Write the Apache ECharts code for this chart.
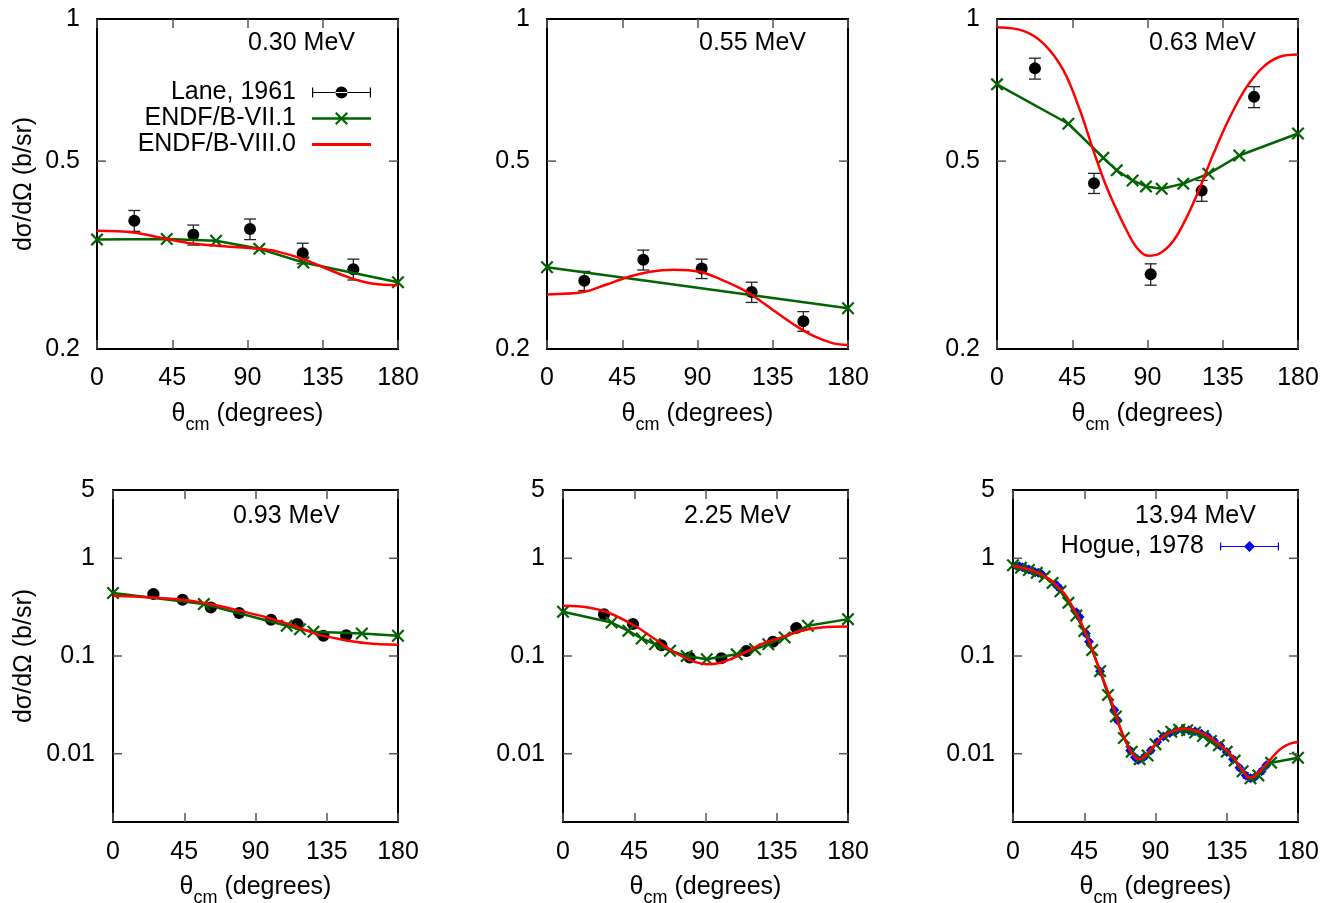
<!DOCTYPE html>
<html>
<head>
<meta charset="utf-8">
<script src="https://cdn.jsdelivr.net/npm/echarts@6/dist/echarts.min.js"></script>
<style>
html,body{margin:0;padding:0;background:#fff;}
#main{width:1333px;height:903px;}
</style>
</head>
<body>
<div id="main"></div>
<script>
// ---------------- DATA ----------------
const xTickValues = [0, 45, 90, 135, 180];
const yTicksTop = [0.2, 0.5, 1];
const yTickLabelsTop = ['0.2', '0.5', '1'];
const yTicksBottom = [0.01, 0.1, 1, 5];
const yTickLabelsBottom = ['0.01', '0.1', '1', '5'];
const energyLabels = ['0.30 MeV', '0.55 MeV', '0.63 MeV', '0.93 MeV', '2.25 MeV', '13.94 MeV'];
const seriesNames = ['Lane, 1961', 'ENDF/B-VII.1', 'ENDF/B-VIII.0', 'Hogue, 1978'];

// 0.30 MeV
const lane030Theta = [22.3, 57.6, 91.5, 123.0, 153.3];
const lane030Value = [0.374, 0.349, 0.359, 0.319, 0.295];
const lane030Err = [0.019, 0.017, 0.018, 0.016, 0.015];
const b71_030Theta = [0, 41.7, 71.2, 97.1, 123.4, 180];
const b71_030Value = [0.341, 0.342, 0.339, 0.326, 0.305, 0.277];
const b80_030Theta = [0, 21.7, 41.7, 55.6, 71.6, 97.1, 107.4, 123.4, 135.3, 151.3, 165.3, 180];
const b80_030Value = [0.356, 0.353, 0.342, 0.335, 0.331, 0.326, 0.322, 0.310, 0.298, 0.283, 0.275, 0.273];

// 0.55 MeV
const lane055Theta = [22.3, 57.6, 92.5, 122.4, 153.3];
const lane055Value = [0.279, 0.309, 0.296, 0.264, 0.229];
const lane055Err = [0.013, 0.015, 0.014, 0.013, 0.011];
const b71_055Theta = [0, 180];
const b71_055Value = [0.298, 0.244];
const b80_055Theta = [0, 21.7, 35.7, 47.6, 61.6, 75.6, 91.5, 103.5, 115.4, 123.4, 135.3, 147.3, 159.3, 171.2, 180];
const b80_055Value = [0.261, 0.264, 0.274, 0.2835, 0.2914, 0.2943, 0.2914, 0.2812, 0.269, 0.259, 0.2416, 0.2257, 0.2131, 0.2056, 0.204];

// 0.63 MeV
const lane063Theta = [22.7, 58.0, 91.9, 122.4, 153.7];
const lane063Value = [0.786, 0.449, 0.288, 0.433, 0.684];
const lane063Err = [0.040, 0.022, 0.015, 0.022, 0.035];
const b71_063Theta = [0, 42.7, 63.6, 71.6, 81.1, 89.1, 98.5, 111.4, 126.4, 144.9, 180];
const b71_063Value = [0.727, 0.600, 0.508, 0.478, 0.455, 0.442, 0.437, 0.448, 0.470, 0.514, 0.572];
const b80_063Theta = [0, 15.7, 27.7, 39.7, 49.6, 57.6, 65.6, 75.6, 83.5, 90.5, 97.5, 105.5, 113.4, 121.4, 129.4, 139.3, 149.3, 159.3, 169.2, 180];
const b80_063Value = [0.960, 0.944, 0.888, 0.779, 0.641, 0.527, 0.440, 0.368, 0.328, 0.315, 0.319, 0.339, 0.380, 0.440, 0.518, 0.620, 0.718, 0.792, 0.832, 0.841];

// 0.93 MeV
const lane093Theta = [25.5, 43.9, 61.8, 79.7, 99.8, 116.5, 132.9, 147.3];
const lane093Value = [0.430, 0.376, 0.314, 0.275, 0.235, 0.212, 0.161, 0.163];
const lane093Err = [0.013, 0.011, 0.009, 0.008, 0.007, 0.006, 0.005, 0.005];
const b71_093Theta = [0, 57.4, 109.7, 118.1, 126.6, 157.2, 180];
const b71_093Value = [0.441, 0.340, 0.204, 0.188, 0.177, 0.170, 0.161];
const b80_093Theta = [0, 23.2, 44.3, 61.2, 80.2, 97.1, 114, 128.7, 143.5, 160.4, 180];
const b80_093Value = [0.413, 0.398, 0.376, 0.340, 0.290, 0.248, 0.204, 0.1675, 0.1487, 0.1353, 0.130];

// 2.25 MeV
const lane225Theta = [25.9, 44.2, 62.1, 80.0, 100.0, 115.8, 132.6, 147.4];
const lane225Value = [0.268, 0.212, 0.129, 0.0965, 0.0949, 0.1128, 0.1396, 0.193];
const lane225Err = [0.008, 0.006, 0.004, 0.003, 0.003, 0.003, 0.004, 0.006];
const b71_225Theta = [0, 30.7, 41.3, 49.7, 58.1, 67.6, 78.1, 90.8, 109.7, 121.3, 129.7, 140.0, 154.7, 180];
const b71_225Value = [0.2836, 0.220, 0.181, 0.151, 0.132, 0.113, 0.100, 0.0927, 0.104, 0.1174, 0.132, 0.155, 0.204, 0.2384];
const b80_225Theta = [0, 15.8, 28.4, 45.3, 57.9, 70.5, 83.2, 91.6, 100.0, 112.6, 125.3, 137.9, 150.5, 163.2, 180];
const b80_225Value = [0.3266, 0.314, 0.279, 0.204, 0.149, 0.1086, 0.087, 0.0824, 0.0858, 0.104, 0.132, 0.155, 0.181, 0.196, 0.200];

// 13.94 MeV
const hogue1394Theta = [2, 4, 6, 8, 10, 12, 14, 16, 18, 27, 29, 40, 42, 46, 48, 55, 64, 66, 74, 77, 79, 83, 87, 91, 95, 99, 103, 107, 111, 115, 119, 123, 127, 131, 135, 139, 143, 147, 150, 153, 157, 160];
const hogue1394Value = [0.84, 0.83, 0.81, 0.78, 0.77, 0.75, 0.72, 0.71, 0.69, 0.54, 0.50, 0.28, 0.25, 0.17, 0.14, 0.070, 0.028, 0.022, 0.0108, 0.0092, 0.0086, 0.0093, 0.0108, 0.0132, 0.0150, 0.0163, 0.0172, 0.0176, 0.0174, 0.0170, 0.0160, 0.0150, 0.0135, 0.0120, 0.0104, 0.0088, 0.0072, 0.0060, 0.0056, 0.0058, 0.0066, 0.0076];
const hogue1394Err = [0.04, 0.04, 0.04, 0.04, 0.04, 0.04, 0.04, 0.04, 0.03, 0.03, 0.03, 0.015, 0.013, 0.009, 0.007, 0.004, 0.0015, 0.0012, 0.0006, 0.0005, 0.0005, 0.0005, 0.0006, 0.0007, 0.0008, 0.0008, 0.0009, 0.0009, 0.0009, 0.0009, 0.0008, 0.0008, 0.0007, 0.0006, 0.0006, 0.0005, 0.0004, 0.0004, 0.0003, 0.0003, 0.0004, 0.0004];
const b71_1394Theta = [0, 5, 10, 15, 20, 25, 30, 35, 40, 45, 50, 55, 60, 65, 70, 75, 80, 85, 90, 95, 100, 105, 110, 115, 120, 125, 130, 135, 140, 145, 150, 155, 163, 180];
const b71_1394Value = [0.85, 0.80, 0.76, 0.71, 0.65, 0.56, 0.46, 0.35, 0.26, 0.18, 0.115, 0.070, 0.040, 0.024, 0.0145, 0.0105, 0.0088, 0.0096, 0.0125, 0.0152, 0.0168, 0.0176, 0.0174, 0.0165, 0.0152, 0.0135, 0.0122, 0.0105, 0.0085, 0.0066, 0.0056, 0.0060, 0.0081, 0.0091];
const b80_1394Theta = [0, 6, 12, 18, 23, 28, 33.5, 38, 42, 45, 48.3, 51, 54.6, 58, 61, 64, 67.2, 70.5, 73.6, 76.5, 79, 82, 86, 90, 95, 100, 105, 109, 113, 118, 122, 126, 130, 135, 139, 143, 146, 148.5, 151, 154, 158, 162, 166, 170, 175, 180];
const b80_1394Value = [0.83, 0.80, 0.75, 0.68, 0.613, 0.52, 0.413, 0.31, 0.238, 0.185, 0.138, 0.105, 0.073, 0.052, 0.039, 0.028, 0.0192, 0.0142, 0.0111, 0.0095, 0.0088, 0.0091, 0.0105, 0.0125, 0.0150, 0.0168, 0.0178, 0.0180, 0.0177, 0.0166, 0.0155, 0.0140, 0.0125, 0.0108, 0.0092, 0.0075, 0.0064, 0.0057, 0.0057, 0.0062, 0.0072, 0.0085, 0.0101, 0.0115, 0.0127, 0.0132];

// ---------------- LAYOUT / STYLE ----------------
const FONT = '"Liberation Sans", Arial, Helvetica, sans-serif';
const FS = 25;
const GREEN = '#006400';
const RED = '#ff0000';
const BLUE = '#0000ff';
const TICK = '#555';
const gridBoxes = [
  {left: 97, top: 19, width: 301, height: 330},
  {left: 547, top: 19, width: 301, height: 330},
  {left: 997, top: 19, width: 301, height: 330},
  {left: 113, top: 490, width: 285, height: 332},
  {left: 563, top: 490, width: 285, height: 332},
  {left: 1013, top: 490, width: 285, height: 332}
];
const titlePos = [[248, 31], [699, 31], [1149, 31], [233, 504], [684, 504], [1135, 504]];

const zip = (a, b) => a.map((v, i) => [v, b[i]]);
const zip3 = (a, b, c) => a.map((v, i) => [v, b[i], c[i]]);

const panels = [
  {lane: [lane030Theta, lane030Value, lane030Err], b71: [b71_030Theta, b71_030Value], b80: [b80_030Theta, b80_030Value], row: 0},
  {lane: [lane055Theta, lane055Value, lane055Err], b71: [b71_055Theta, b71_055Value], b80: [b80_055Theta, b80_055Value], row: 0},
  {lane: [lane063Theta, lane063Value, lane063Err], b71: [b71_063Theta, b71_063Value], b80: [b80_063Theta, b80_063Value], row: 0},
  {lane: [lane093Theta, lane093Value, lane093Err], b71: [b71_093Theta, b71_093Value], b80: [b80_093Theta, b80_093Value], row: 1},
  {lane: [lane225Theta, lane225Value, lane225Err], b71: [b71_225Theta, b71_225Value], b80: [b80_225Theta, b80_225Value], row: 1},
  {hogue: [hogue1394Theta, hogue1394Value, hogue1394Err], b71: [b71_1394Theta, b71_1394Value], b80: [b80_1394Theta, b80_1394Value], row: 1}
];

const crossPath = 'path://M0,1.2L1.2,0L5,3.8L8.8,0L10,1.2L6.2,5L10,8.8L8.8,10L5,6.2L1.2,10L0,8.8L3.8,5Z';
const laneIcon = 'path://M0,7.5H59V8.5H0Z M0,3H1.2V13H0Z M57.8,3H59V13H57.8Z M23.5,8A6,6,0,1,0,35.5,8A6,6,0,1,0,23.5,8Z';
const b71Icon = 'path://M0,6.8H59V9.2H0Z M23,3.06L24.56,1.5L29.5,6.44L34.44,1.5L36,3.06L31.06,8L36,12.94L34.44,14.5L29.5,9.56L24.56,14.5L23,12.94L27.94,8Z';
const b80Icon = 'path://M0,6.6H59V9.4H0Z M0,0H0.01V16H0Z';
const hogueIcon = 'path://M0,7.5H59V8.5H0Z M0,4H1.2V12H0Z M57.8,4H59V12H57.8Z M24,8L29.5,2.5L35,8L29.5,13.5Z';

function errRender(color, capHalf, width) {
  return function (params, api) {
    const x = api.value(0), y = api.value(1), e = api.value(2);
    const lo = api.coord([x, y - e]);
    const hi = api.coord([x, y + e]);
    const st = {stroke: color, lineWidth: width};
    return {
      type: 'group',
      children: [
        {type: 'line', shape: {x1: lo[0], y1: lo[1], x2: hi[0], y2: hi[1]}, style: st},
        {type: 'line', shape: {x1: lo[0] - capHalf, y1: lo[1], x2: lo[0] + capHalf, y2: lo[1]}, style: st},
        {type: 'line', shape: {x1: hi[0] - capHalf, y1: hi[1], x2: hi[0] + capHalf, y2: hi[1]}, style: st}
      ]
    };
  };
}

const grids = gridBoxes.map(b => ({
  left: b.left, top: b.top, width: b.width, height: b.height,
  show: true, borderColor: '#000', borderWidth: 2, backgroundColor: 'transparent',
  containLabel: false, outerBoundsMode: 'none'
}));

const xNameRich = {
  t: {fontSize: FS, fontFamily: FONT, color: '#000', verticalAlign: 'top', lineHeight: 27},
  s: {fontSize: 18, fontFamily: FONT, color: '#000', verticalAlign: 'top', lineHeight: 20, padding: [14, 0, 0, 0]}
};

const xAxes = [];
gridBoxes.forEach((b, i) => {
  xAxes.push({
    type: 'value', gridIndex: i, min: 0, max: 180, interval: 45, position: 'bottom',
    axisLine: {show: false},
    axisTick: {show: true, inside: true, length: 9, lineStyle: {color: TICK, width: 1.5}},
    splitLine: {show: false},
    axisLabel: {show: true, fontSize: FS, fontFamily: FONT, color: '#000', margin: panels[i].row === 0 ? 17 : 18,
      customValues: xTickValues},
    name: '{t|θ}{s|cm}{t| (degrees)}', nameLocation: 'middle', nameGap: panels[i].row === 0 ? 53 : 53,
    nameTextStyle: {rich: xNameRich}
  });
});
gridBoxes.forEach((b, i) => {
  xAxes.push({
    type: 'value', gridIndex: i, min: 0, max: 180, interval: 45, position: 'top',
    axisLine: {show: false},
    axisTick: {show: true, inside: true, length: 9, lineStyle: {color: TICK, width: 1.5}},
    splitLine: {show: false}, axisLabel: {show: false}
  });
});

const yAxes = gridBoxes.map((b, i) => {
  const top = panels[i].row === 0;
  const ax = {
    type: 'log', logBase: 10, gridIndex: i,
    min: top ? 0.2 : 0.002, max: top ? 1 : 5,
    axisLine: {show: false}, axisTick: {show: false}, axisLabel: {show: false}, splitLine: {show: false}, minorTick: {show: false}
  };
  if (i === 0 || i === 3) {
    ax.name = 'dσ/dΩ (b/sr)';
    ax.nameLocation = 'middle';
    ax.nameRotate = 90;
    ax.nameGap = i === 0 ? 60 : 76;
    ax.nameTextStyle = {fontSize: FS, fontFamily: FONT, color: '#000'};
  }
  return ax;
});

const series = [];
panels.forEach((p, i) => {
  if (p.lane) {
    series.push({
      type: 'custom', name: seriesNames[0], xAxisIndex: i, yAxisIndex: i, z: 2, silent: true,
      itemStyle: {color: '#000'}, renderItem: errRender('#222', 6, 1.3),
      encode: {x: 0, y: 1}, data: zip3(p.lane[0], p.lane[1], p.lane[2])
    });
    series.push({
      type: 'scatter', name: seriesNames[0], xAxisIndex: i, yAxisIndex: i, z: 2,
      symbol: 'circle', symbolSize: 12, itemStyle: {color: '#000', opacity: 1},
      data: zip(p.lane[0], p.lane[1])
    });
  }
  if (p.hogue) {
    series.push({
      type: 'custom', name: seriesNames[3], xAxisIndex: i, yAxisIndex: i, z: 2, silent: true,
      itemStyle: {color: BLUE}, renderItem: errRender(BLUE, 3, 1.2),
      encode: {x: 0, y: 1}, data: zip3(p.hogue[0], p.hogue[1], p.hogue[2])
    });
    series.push({
      type: 'scatter', name: seriesNames[3], xAxisIndex: i, yAxisIndex: i, z: 2,
      symbol: 'diamond', symbolSize: 10, itemStyle: {color: BLUE, opacity: 1},
      data: zip(p.hogue[0], p.hogue[1])
    });
  }
  series.push({
    type: 'line', name: seriesNames[1], xAxisIndex: i, yAxisIndex: i, z: 3,
    symbol: crossPath, symbolSize: 13, showSymbol: true,
    lineStyle: {color: GREEN, width: 2.5}, itemStyle: {color: GREEN},
    data: zip(p.b71[0], p.b71[1])
  });
  series.push({
    type: 'line', name: seriesNames[2], xAxisIndex: i, yAxisIndex: i, z: 4,
    symbol: 'none', smooth: 0.35,
    lineStyle: {color: RED, width: 2.5}, itemStyle: {color: RED},
    data: zip(p.b80[0], p.b80[1])
  });
});

const titles = energyLabels.map((t, i) => ({
  text: t, left: titlePos[i][0], top: titlePos[i][1], padding: 0,
  textStyle: {fontSize: FS, fontWeight: 'normal', fontFamily: FONT, color: '#000'}
}));

const legendText = {fontSize: FS, fontFamily: FONT, color: '#000', padding: [0, 11, 0, 0]};
const option = {
  animation: false,
  backgroundColor: '#fff',
  title: titles,
  grid: grids,
  xAxis: xAxes,
  yAxis: yAxes,
  legend: [
    {
      orient: 'vertical', align: 'right', right: 957, top: 75, itemGap: 1,
      itemWidth: 59, itemHeight: 16, selectedMode: false,
      textStyle: legendText,
      data: [
        {name: seriesNames[0], icon: laneIcon, itemStyle: {color: '#000'}},
        {name: seriesNames[1], icon: b71Icon, itemStyle: {color: GREEN}},
        {name: seriesNames[2], icon: b80Icon, itemStyle: {color: RED}}
      ]
    },
    {
      orient: 'vertical', align: 'right', right: 49, top: 529, itemGap: 1,
      itemWidth: 59, itemHeight: 16, selectedMode: false,
      textStyle: legendText,
      data: [{name: seriesNames[3], icon: hogueIcon, itemStyle: {color: BLUE}}]
    }
  ],
  series: series
};

const chart = echarts.init(document.getElementById('main'), null, {renderer: 'canvas'});
chart.setOption(option);

// y ticks and tick labels on the log axes, placed through the axes' own scale
const overlay = [];
panels.forEach((p, i) => {
  const b = gridBoxes[i];
  const ticks = p.row === 0 ? yTicksTop : yTicksBottom;
  const labels = p.row === 0 ? yTickLabelsTop : yTickLabelsBottom;
  const lo = p.row === 0 ? 0.2 : 0.002, hi = p.row === 0 ? 1 : 5;
  const gap = p.row === 0 ? 17 : 18;
  ticks.forEach((v, k) => {
    const y = chart.convertToPixel({yAxisIndex: i}, v);
    if (v > lo && v < hi) {
      overlay.push({type: 'line', silent: true, z: 10, shape: {x1: b.left, y1: y, x2: b.left + 9, y2: y}, style: {stroke: TICK, lineWidth: 1.5}});
      overlay.push({type: 'line', silent: true, z: 10, shape: {x1: b.left + b.width - 9, y1: y, x2: b.left + b.width, y2: y}, style: {stroke: TICK, lineWidth: 1.5}});
    }
    overlay.push({type: 'text', silent: true, z: 10, x: b.left - gap, y: y,
      style: {text: labels[k], font: FS + 'px ' + FONT, fill: '#000', align: 'right', verticalAlign: 'middle'}});
  });
});
chart.setOption({graphic: overlay});
</script>
</body>
</html>
